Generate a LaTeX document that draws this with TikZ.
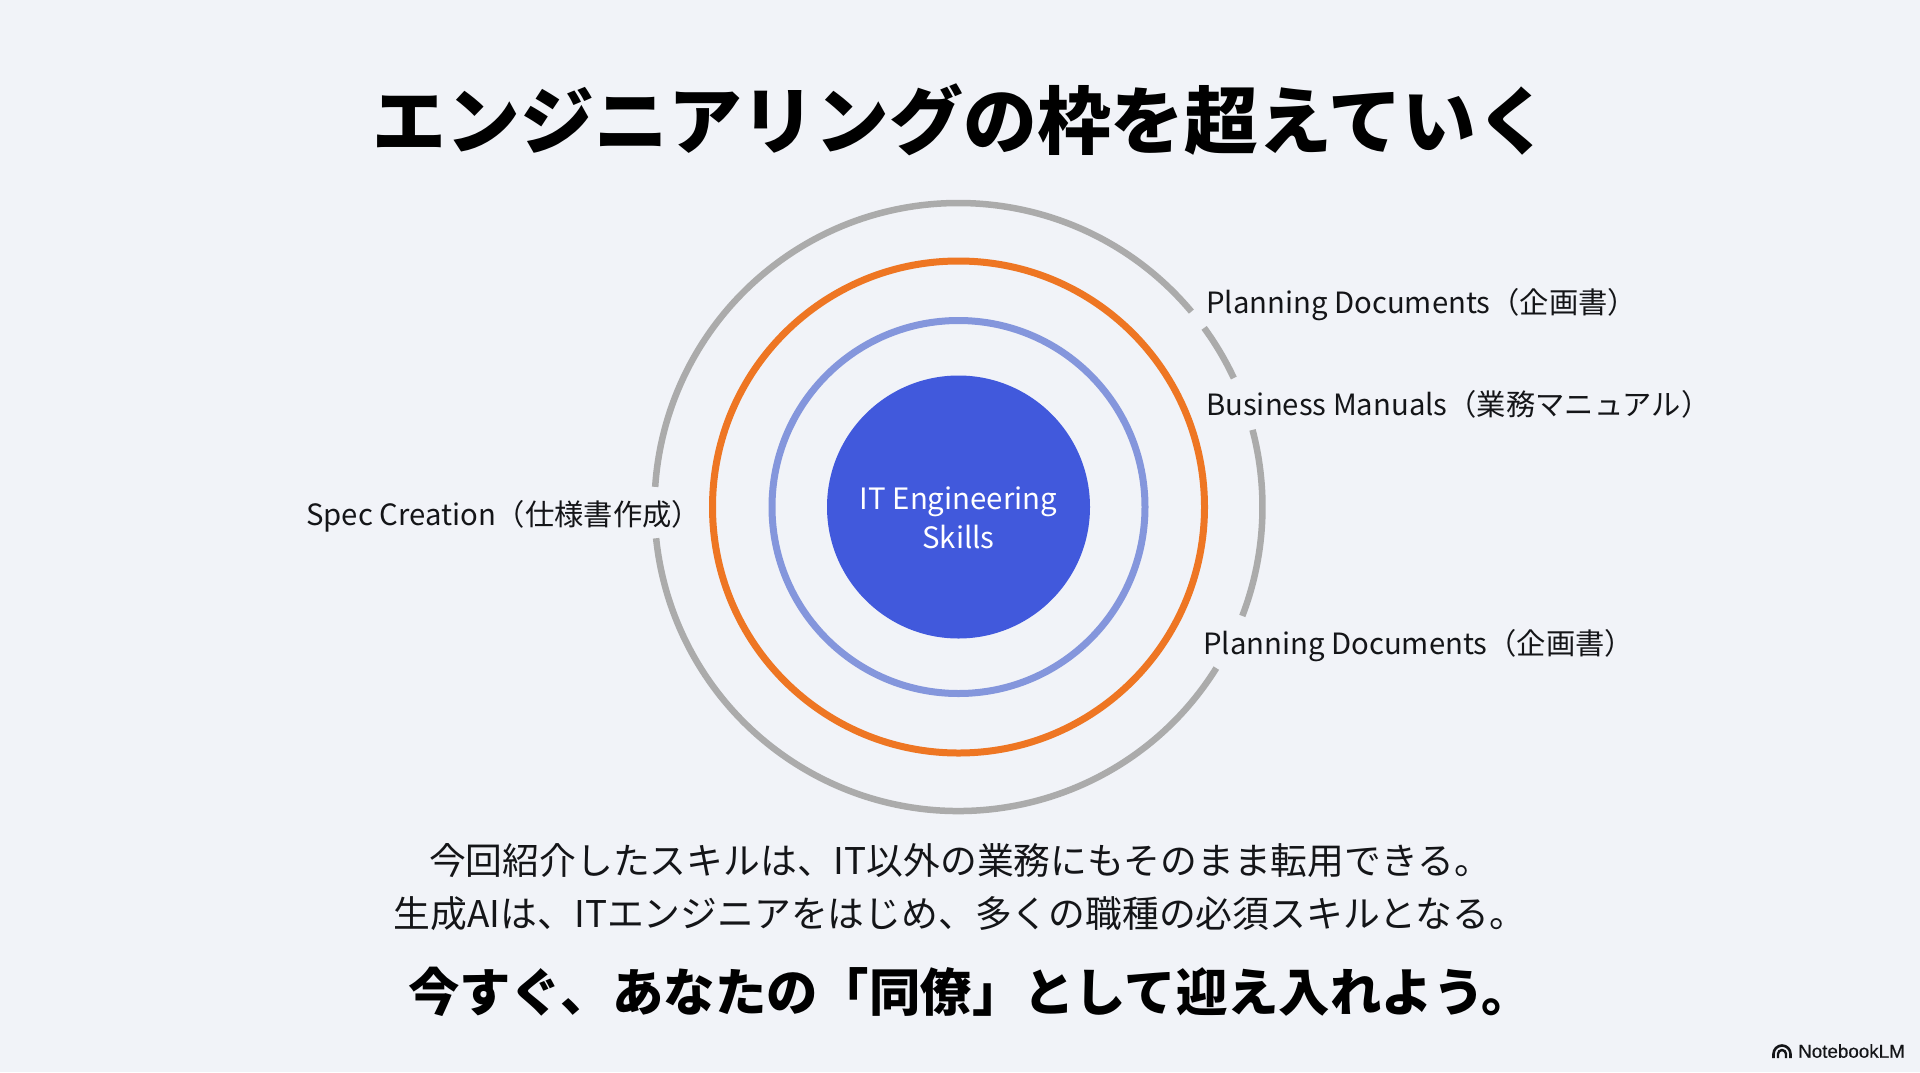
\documentclass[tikz,border=0pt]{standalone}
\usepackage{fontspec}
\setmainfont{Noto Sans CJK JP}
\newfontfamily\logofont[FakeBold=0.4]{Liberation Sans}
\definecolor{bgc}{HTML}{F1F3F8}
\definecolor{inkc}{HTML}{141518}
\definecolor{discc}{HTML}{4159DC}
\definecolor{bluec}{HTML}{8496DC}
\definecolor{orangec}{HTML}{EE7623}
\definecolor{grayc}{HTML}{ABABAB}
\tikzset{
  labeltext/.style={inner sep=0pt,anchor=west,text=inkc,font=\fontsize{29.3}{36}\selectfont},
  bodytext/.style={inner sep=0pt,text=inkc,font=\fontsize{36.8}{44}\selectfont},
  grayarc/.style={draw=grayc,line width=6.5pt},
}
\begin{document}
\begin{tikzpicture}[x=1pt,y=-1pt]
\useasboundingbox (0,0) rectangle (1920,1072);
\fill[bgc] (0,0) rectangle (1920,1072);
\coordinate (c) at (958.5,507);
\draw[grayarc] (c) ++(40:304 and -304) arc[start angle=40,end angle=176.2,x radius=304,y radius=-304];
\draw[grayarc] (c) ++(36.1:304 and -304) arc[start angle=36.1,end angle=25.1,x radius=304,y radius=-304];
\draw[grayarc] (c) ++(14.7:304 and -304) arc[start angle=14.7,end angle=-21,x radius=304,y radius=-304];
\draw[grayarc] (c) ++(-32:304 and -304) arc[start angle=-32,end angle=-174.1,x radius=304,y radius=-304];
\node[circle,draw=orangec,line width=7pt,minimum size=492pt,inner sep=0pt] (orange) at (c) {};
\node[circle,draw=bluec,line width=7pt,minimum size=373pt,inner sep=0pt] (blue) at (c) {};
\node[circle,fill=discc,minimum size=263pt,inner sep=0pt] (disc) at (c) {};
\node[inner sep=0pt,text=white,align=center,font=\fontsize{29.4}{38.5}\selectfont] (disctext) at (958.5,518) {IT Engineering\\Skills};
\node[inner sep=0pt,text=black,font=\fontsize{73.8}{80}\bfseries\selectfont] (title) at (961.5,120) {エンジニアリングの枠を超えていく};
\node[labeltext] (l1) at (1206,304.5) {Planning Documents（企画書）};
\node[labeltext] (l2) at (1206,404.5) {Business Manuals（業務マニュアル）};
\node[labeltext] (l3) at (1203,645.5) {Planning Documents（企画書）};
\node[labeltext] (l4) at (306,516.5) {Spec Creation（仕様書作成）};
\node[bodytext] (b1) at (960,860.5) {今回紹介したスキルは、IT以外の業務にもそのまま転用できる。};
\node[bodytext] (b2) at (960,914) {生成AIは、ITエンジニアをはじめ、多くの職種の必須スキルとなる。};
\node[inner sep=0pt,text=black,font=\fontsize{51.4}{60}\bfseries\selectfont] (b3) at (970.5,992) {今すぐ、あなたの「同僚」として迎え入れよう。};
\node[inner sep=0pt,anchor=west,text=inkc,font=\logofont\fontsize{18.8}{20}\selectfont] (logo) at (1798,1051) {NotebookLM};
\coordinate (lg) at (1782,1054);
\foreach \r/\w in {8.5/2.6,4/2.4}{
  \draw[inkc,line width=\w pt] (lg) ++(-\r,4) -- ++(0,-4) arc[start angle=180,end angle=360,x radius=\r,y radius=\r] -- ++(0,4);
}
\end{tikzpicture}
\end{document}
